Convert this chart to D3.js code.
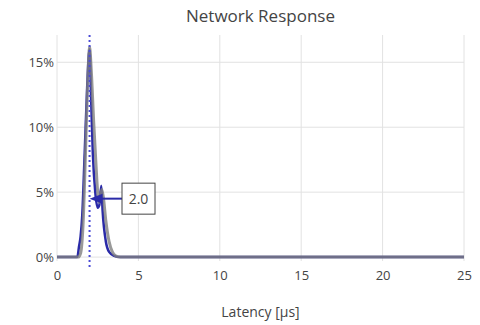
<!DOCTYPE html>
<html>
<head>
<meta charset="utf-8">
<script src="https://cdn.jsdelivr.net/npm/d3@7"></script>
<style>
  html, body { margin: 0; padding: 0; background: #fff; }
  svg { display: block; font-family: "Open Sans", sans-serif; }
</style>
</head>
<body>
<svg id="chart" width="480" height="325"></svg>
<script>
// Latency histogram, percent of samples per latency bin (µs)
const latencyA = [0, 1.3, 1.45, 1.6, 1.75, 1.9, 2.0, 2.1, 2.25, 2.4, 2.5, 2.6, 2.75, 2.85, 3.0, 3.2, 3.4, 3.6, 3.9, 25];
const shareA   = [0, 0, 0.3, 2.5, 8, 14, 16.2, 14.5, 10.5, 7, 5, 4.2, 5.2, 4.6, 2.8, 1.2, 0.4, 0.1, 0, 0];
const latencyB = [0, 1.25, 1.35, 1.45, 1.55, 1.7, 1.85, 2.0, 2.1, 2.2, 2.35, 2.5, 2.6, 2.72, 2.8, 3.0, 3.2, 3.5, 3.9, 25];
const shareB   = [0, 0, 0.8, 1.6, 3.2, 8, 13, 16, 12, 8, 5, 3.8, 4, 5.5, 3.6, 1.2, 0.4, 0.1, 0, 0];
const xTicks = [0, 5, 10, 15, 20, 25];
const yTicks = [0, 5, 10, 15];
const markerValue = 2.0;
const markerLabel = "2.0";
const annotationY = 4.5;

const svg = d3.select("#chart");
const margin = { left: 57, right: 16, top: 35, bottom: 64 };
const W = 480, H = 325;

const x = d3.scaleLinear().domain([0, 25]).range([margin.left, W - margin.right]);
const y = d3.scaleLinear().domain([-0.3, 17.1]).range([H - margin.bottom, margin.top]);

const textColor = "#444";
const gridColor = "#e2e2e2";

// gridlines
svg.append("g").selectAll("line").data(xTicks).join("line")
  .attr("x1", d => x(d)).attr("x2", d => x(d))
  .attr("y1", y.range()[1]).attr("y2", y.range()[0])
  .attr("stroke", gridColor).attr("stroke-width", 1);
svg.append("g").selectAll("line").data(yTicks).join("line")
  .attr("x1", x.range()[0]).attr("x2", x.range()[1])
  .attr("y1", d => y(d)).attr("y2", d => y(d))
  .attr("stroke", gridColor).attr("stroke-width", 1);

// axes (labels only)
const xAxis = svg.append("g")
  .attr("transform", `translate(0,${y.range()[0]})`)
  .call(d3.axisBottom(x).tickValues(xTicks).tickSize(0).tickPadding(10).tickFormat(d3.format("d")));
xAxis.select(".domain").remove();
xAxis.selectAll("text").attr("fill", textColor).style("font-size", "13px").style("font-family", "Open Sans");

const yAxis = svg.append("g")
  .attr("transform", `translate(${x.range()[0]},0)`)
  .call(d3.axisLeft(y).tickValues(yTicks).tickSize(0).tickPadding(3).tickFormat(d => d + "%"));
yAxis.select(".domain").remove();
yAxis.selectAll("text").attr("fill", textColor).style("font-size", "13px").style("font-family", "Open Sans");

// series
const line = d3.line().x(d => x(d[0])).y(d => y(d[1])).curve(d3.curveMonotoneX);
const ptsA = latencyA.map((v, i) => [v, shareA[i]]);
const ptsB = latencyB.map((v, i) => [v, shareB[i]]);

svg.append("path").datum(ptsB).attr("d", line)
  .attr("fill", "none").attr("stroke", "#2a2aa8").attr("stroke-width", 2.5);
svg.append("path").datum(ptsA).attr("d", line)
  .attr("fill", "none").attr("stroke", "#808080").attr("stroke-opacity", 0.8).attr("stroke-width", 3);

// median marker
svg.append("line")
  .attr("x1", x(markerValue)).attr("x2", x(markerValue))
  .attr("y1", y.range()[1]).attr("y2", y.range()[0] + 7)
  .attr("stroke", "#4b4bd6").attr("stroke-width", 2).attr("stroke-dasharray", "2,3");

// annotation with arrow
const boxX = 122, boxW = 33, boxH = 31;
const ay = y(annotationY);
const ann = svg.append("g");
ann.append("line")
  .attr("x1", boxX).attr("x2", x(markerValue) + 10)
  .attr("y1", ay).attr("y2", ay)
  .attr("stroke", "#2a2aa8").attr("stroke-width", 2);
ann.append("path")
  .attr("d", `M${x(markerValue)},${ay} L${x(markerValue) + 13},${ay - 5} L${x(markerValue) + 13},${ay + 5} Z`)
  .attr("fill", "#2a2aa8");
ann.append("rect")
  .attr("x", boxX).attr("y", ay - boxH / 2).attr("width", boxW).attr("height", boxH)
  .attr("fill", "#fff").attr("stroke", textColor).attr("stroke-width", 1);
ann.append("text")
  .attr("x", boxX + boxW / 2).attr("y", ay).attr("dy", "0.35em")
  .attr("text-anchor", "middle").attr("fill", textColor).style("font-size", "14px")
  .text(markerLabel);

// titles
svg.append("text")
  .attr("x", (x.range()[0] + x.range()[1]) / 2).attr("y", 22)
  .attr("text-anchor", "middle").attr("fill", textColor).style("font-size", "17px")
  .text("Network Response");
svg.append("text")
  .attr("x", (x.range()[0] + x.range()[1]) / 2).attr("y", 317)
  .attr("text-anchor", "middle").attr("fill", textColor).style("font-size", "14px")
  .text("Latency [µs]");
</script>
</body>
</html>
